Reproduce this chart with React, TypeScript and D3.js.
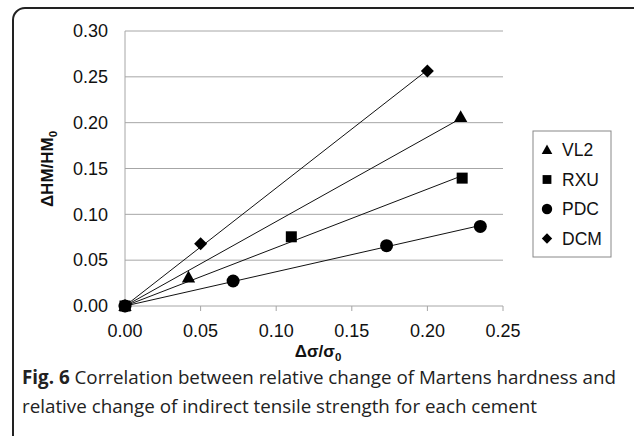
import React from "react";
import * as d3 from "d3";

const W = 634;
const H = 436;

const seriesNames = ["VL2", "RXU", "PDC", "DCM"];
const vl2X = [0, 0.042, 0.222];
const vl2Y = [0, 0.031, 0.206];
const rxuX = [0, 0.11, 0.223];
const rxuY = [0, 0.0755, 0.1395];
const pdcX = [0, 0.0715, 0.173, 0.235];
const pdcY = [0, 0.0273, 0.0658, 0.0868];
const dcmX = [0, 0.05, 0.2];
const dcmY = [0, 0.068, 0.2565];
const xTicks = [0, 0.05, 0.1, 0.15, 0.2, 0.25];
const yTicks = [0, 0.05, 0.1, 0.15, 0.2, 0.25, 0.3];

const shapes = ["triangle", "square", "circle", "diamond"];

const x = d3.scaleLinear().domain([0, 0.25]).range([125, 503]);
const y = d3.scaleLinear().domain([0, 0.3]).range([306, 31]);

function Marker({ shape, cx, cy, s = 1 }: { shape: string; cx: number; cy: number; s?: number }) {
  if (shape === "triangle") {
    const r = 7 * s;
    return <path d={`M${cx},${cy - r} L${cx + r * 0.95},${cy + r * 0.7} L${cx - r * 0.95},${cy + r * 0.7} Z`} fill="#000" />;
  }
  if (shape === "square") {
    const r = 5.5 * s;
    return <rect x={cx - r} y={cy - r} width={2 * r} height={2 * r} fill="#000" />;
  }
  if (shape === "circle") {
    return <circle cx={cx} cy={cy} r={6.5 * s} fill="#000" />;
  }
  const r = 6.5 * s;
  return <path d={`M${cx},${cy - r} L${cx + r},${cy} L${cx},${cy + r} L${cx - r},${cy} Z`} fill="#000" />;
}

export default function App() {
  const data = [
    { xs: vl2X, ys: vl2Y },
    { xs: rxuX, ys: rxuY },
    { xs: pdcX, ys: pdcY },
    { xs: dcmX, ys: dcmY },
  ];
  const font = "'Liberation Sans', Arial, sans-serif";
  const capFont = "'Open Sans', sans-serif";
  return (
    <svg width={W} height={H} style={{ position: "absolute", left: 0, top: 0, background: "#fff" }}>
      <rect x={13} y={8} width={640} height={440} rx={12} ry={12} fill="none" stroke="#222" strokeWidth={2} />
      {yTicks.map((t) => (
        <g key={"y" + t}>
          {t > 0 && <line x1={x(0)} x2={x(0.25)} y1={y(t)} y2={y(t)} stroke="#a6a6a6" strokeWidth={1} />}
          <text x={108} y={y(t)} dy="0.35em" textAnchor="end" fontFamily={font} fontSize={18} fill="#111">
            {t.toFixed(2)}
          </text>
        </g>
      ))}
      <line x1={x(0)} x2={x(0)} y1={y(0.3)} y2={y(0)} stroke="#a6a6a6" />
      <line x1={x(0)} x2={x(0.25)} y1={y(0)} y2={y(0)} stroke="#a6a6a6" />
      {xTicks.map((t) => (
        <g key={"x" + t}>
          <line x1={x(t)} x2={x(t)} y1={y(0)} y2={y(0) + 5} stroke="#a6a6a6" />
          <text x={x(t)} y={331} dy="0.35em" textAnchor="middle" fontFamily={font} fontSize={18} fill="#111">
            {t.toFixed(2)}
          </text>
        </g>
      ))}
      {data.map((d, i) => {
        const num = d3.sum(d.xs, (v, k) => v * d.ys[k]);
        const den = d3.sum(d.xs, (v) => v * v);
        const slope = num / den;
        const xmax = d3.max(d.xs) as number;
        return (
          <line key={"l" + i} x1={x(0)} y1={y(0)} x2={x(xmax)} y2={y(slope * xmax)} stroke="#111" strokeWidth={1} />
        );
      })}
      {data.map((d, i) =>
        d.xs.map((v, k) => <Marker key={`m${i}-${k}`} shape={shapes[i]} cx={x(v)} cy={y(d.ys[k])} />)
      )}
      <rect x={533} y={131} width={78} height={126} fill="#fff" stroke="#888" strokeWidth={1} />
      {seriesNames.map((n, i) => (
        <g key={n}>
          <Marker shape={shapes[i]} cx={547} cy={150 + i * 29.5} s={0.8} />
          <text x={562} y={150 + i * 29.5} dy="0.35em" fontFamily={font} fontSize={17.5} fill="#111">
            {n}
          </text>
        </g>
      ))}
      <text x={318} y={357} textAnchor="middle" fontFamily={font} fontSize={17} fontWeight="bold" fill="#111">
        Δσ/σ<tspan fontSize={11.5} dy={3.5}>0</tspan>
      </text>
      <text
        transform={`translate(53,169) rotate(-90)`}
        textAnchor="middle"
        fontFamily={font}
        fontSize={17}
        fontWeight="bold"
        fill="#111"
      >
        ΔHM/HM<tspan fontSize={11.5} dy={4}>0</tspan>
      </text>
      <text x={22} y={384} fontFamily={capFont} fontSize={19} fill="#222" textLength={594} lengthAdjust="spacingAndGlyphs">
        <tspan fontWeight="bold">Fig. 6</tspan> Correlation between relative change of Martens hardness and
      </text>
      <text x={22} y={413} fontFamily={capFont} fontSize={19} fill="#222" textLength={515} lengthAdjust="spacingAndGlyphs">
        relative change of indirect tensile strength for each cement
      </text>
    </svg>
  );
}
